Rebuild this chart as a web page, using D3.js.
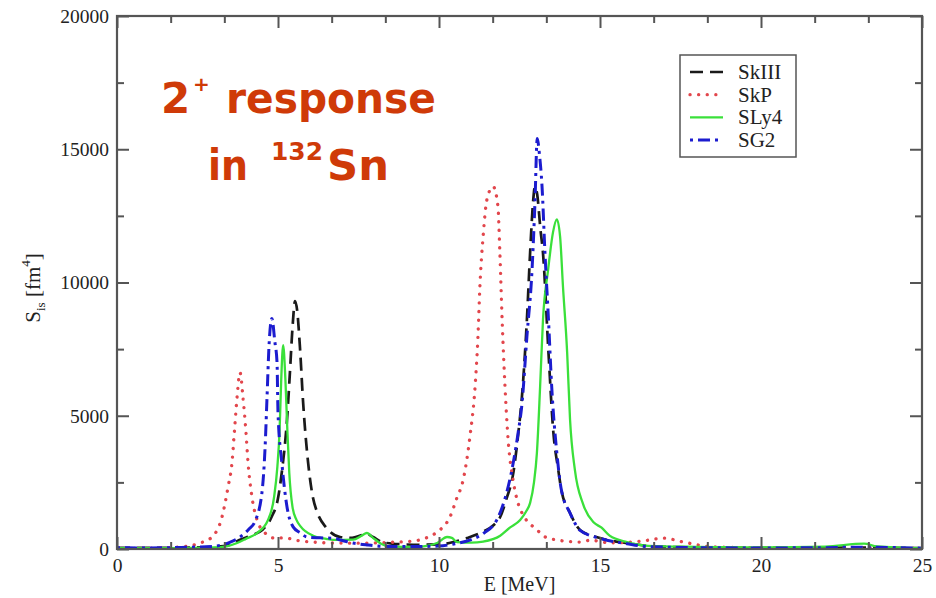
<!DOCTYPE html>
<html><head><meta charset="utf-8">
<script src="https://cdn.jsdelivr.net/npm/d3@7"></script>
<style>body{margin:0;background:#fff}svg{display:block}</style>
</head><body>
<svg id="c" width="936" height="598"></svg>
<script>
// ---------- data (E [MeV], S_IS [fm^4]) ----------
const seriesNames = ["SkIII", "SkP", "SLy4", "SG2"];

const skIII = [[0,40],[1,40],[2,50],[3,80],[3.5,150],[3.8,340],[4.2,520],[4.5,700],[4.8,1200],[5.0,1900],[5.12,2900],[5.28,4850],[5.37,6620],[5.45,8300],[5.53,9300],[5.6,8900],[5.68,7600],[5.78,5500],[5.93,3300],[6.09,1900],[6.21,1400],[6.5,800],[6.93,450],[7.3,420],[7.6,520],[7.76,565],[7.95,450],[8.26,250],[8.8,180],[9.4,160],[10,170],[10.5,280],[10.87,410],[11.37,650],[11.7,900],[11.9,1200],[12.1,1900],[12.3,2800],[12.45,4200],[12.6,6090],[12.73,8610],[12.83,11130],[12.92,13000],[12.98,13600],[13.05,13300],[13.15,12000],[13.23,11100],[13.4,7370],[13.55,4400],[13.7,3000],[13.8,2220],[14.07,1350],[14.38,715],[15,410],[15.84,225],[16.55,110],[17.5,70],[19,50],[21,40],[23,50],[25,30]];

const skP = [[0,20],[1,30],[2,80],[2.58,225],[2.95,450],[3.26,1200],[3.45,2330],[3.57,3230],[3.65,4470],[3.73,5720],[3.82,6620],[3.91,5720],[4.0,4470],[4.07,3230],[4.19,1960],[4.35,1090],[4.6,600],[4.9,410],[5.2,420],[5.6,320],[6.2,250],[6.7,225],[7.5,220],[8.5,250],[9.0,280],[9.4,340],[9.8,525],[10.03,715],[10.34,1200],[10.55,1900],[10.75,2590],[10.96,4210],[11.12,6090],[11.21,7970],[11.27,9850],[11.37,11730],[11.49,13120],[11.68,13600],[11.83,12860],[11.89,11130],[11.96,8610],[12.05,6090],[12.14,4210],[12.3,2590],[12.46,1700],[12.6,1300],[12.77,1000],[12.98,790],[13.3,450],[13.66,340],[14.38,260],[14.7,330],[15.3,230],[16.0,260],[16.55,340],[16.96,410],[17.6,260],[18.5,80],[20,50],[22,50],[25,30]];

const sLy4 = [[0,30],[1,30],[2,40],[3,60],[3.4,100],[3.73,225],[4.0,380],[4.35,600],[4.69,1090],[4.88,1960],[4.98,3080],[5.05,4470],[5.1,6350],[5.16,7650],[5.23,6350],[5.29,4470],[5.35,2860],[5.45,1580],[5.57,1100],[5.7,850],[6.09,500],[6.5,380],[6.71,340],[7.33,350],[7.6,500],[7.76,600],[7.95,420],[8.2,200],[8.48,90],[9.3,80],[9.94,225],[10.25,450],[10.4,420],[10.56,260],[11,240],[11.37,280],[11.9,500],[12.2,800],[12.52,1090],[12.7,1400],[12.83,1730],[12.95,2500],[13.04,3600],[13.14,6090],[13.23,8610],[13.39,10490],[13.54,11880],[13.66,12370],[13.76,11730],[13.85,9850],[13.98,7370],[14.07,4850],[14.22,2970],[14.47,1700],[14.8,1000],[15.05,800],[15.3,500],[15.84,260],[16.5,120],[18,80],[20,60],[22,90],[23.2,200],[23.6,100],[25,30]];

const sG2 = [[0,50],[1,40],[2,60],[2.98,100],[3.5,250],[3.82,450],[4.1,750],[4.29,1050],[4.5,2100],[4.6,3840],[4.66,5720],[4.72,7600],[4.81,8650],[4.9,7800],[4.97,7000],[5.0,5110],[5.12,3230],[5.28,1580],[5.47,830],[5.7,600],[5.9,450],[6.3,420],[6.71,400],[7.0,320],[7.33,225],[7.8,150],[8.26,100],[9,90],[10,110],[10.5,200],[11,350],[11.4,600],[11.8,1100],[12.0,1700],[12.3,3200],[12.45,4300],[12.58,5490],[12.73,7970],[12.89,10490],[12.98,13000],[13.05,15400],[13.12,14800],[13.2,13600],[13.29,11130],[13.4,8610],[13.5,6090],[13.66,3600],[13.8,2220],[14.07,1350],[14.38,700],[15,400],[15.84,200],[16.5,90],[18,50],[20,40],[22,50],[23,70],[25,30]];

const xTicks = [0, 5, 10, 15, 20, 25];
const xMinor = [1.6667, 3.3333, 6.6667, 8.3333, 11.6667, 13.3333, 16.6667, 18.3333, 21.6667, 23.3333];
const yTicks = [0, 5000, 10000, 15000, 20000];
const yMinor = [2500, 7500, 12500, 17500];

// ---------- layout ----------
const svg = d3.select("#c");
const L = 117, R = 922, T = 16, B = 549;
const x = d3.scaleLinear().domain([0, 25]).range([L, R]);
const y = d3.scaleLinear().domain([0, 20000]).range([B, T]);

const styles = {
  SkIII: {data: skIII, color: "#1a1a1a", width: 2.7, dash: "13,7", cap: "butt"},
  SkP:   {data: skP,   color: "#e2464c", width: 3.3, dash: "0.1,8.5", cap: "round"},
  SLy4:  {data: sLy4,  color: "#3ae03a", width: 2.3, dash: null, cap: "butt"},
  SG2:   {data: sG2,   color: "#1c1ccf", width: 3.0, dash: "3,5,12,5", cap: "butt"}
};

svg.append("clipPath").attr("id", "clip").append("rect")
  .attr("x", L).attr("y", T).attr("width", R - L).attr("height", B - T);

const line = d3.line().x(d => x(d[0])).y(d => y(d[1])).curve(d3.curveMonotoneX);
const gLines = svg.append("g").attr("clip-path", "url(#clip)");
seriesNames.forEach(n => {
  const s = styles[n];
  gLines.append("path").datum(s.data)
    .attr("d", line).attr("fill", "none")
    .attr("stroke", s.color).attr("stroke-width", s.width)
    .attr("stroke-dasharray", s.dash).attr("stroke-linecap", s.cap)
    .attr("stroke-linejoin", "round");
});

// ---------- axes ----------
const axisColor = "#555";
const tickFont = "'Liberation Serif','Times New Roman',serif";
function styleAxis(g) {
  g.select(".domain").remove();
  g.selectAll("line").attr("stroke", axisColor).attr("stroke-width", 2);
  g.selectAll("text").attr("font-family", tickFont).attr("font-size", 19.5).attr("fill", "#222");
}
svg.append("g").attr("transform", `translate(0,${B})`)
  .call(d3.axisBottom(x).tickValues(xTicks).tickSize(-12).tickPadding(9).tickFormat(d3.format("d"))).call(styleAxis);
svg.append("g").attr("transform", `translate(0,${B})`)
  .call(d3.axisBottom(x).tickValues(xMinor).tickSize(-7).tickFormat("")).call(styleAxis);
svg.append("g").attr("transform", `translate(0,${T})`)
  .call(d3.axisTop(x).tickValues(xTicks).tickSize(-12).tickFormat("")).call(styleAxis);
svg.append("g").attr("transform", `translate(0,${T})`)
  .call(d3.axisTop(x).tickValues(xMinor).tickSize(-7).tickFormat("")).call(styleAxis);
svg.append("g").attr("transform", `translate(${L},0)`)
  .call(d3.axisLeft(y).tickValues(yTicks).tickSize(-12).tickPadding(8).tickFormat(d3.format("d"))).call(styleAxis);
svg.append("g").attr("transform", `translate(${L},0)`)
  .call(d3.axisLeft(y).tickValues(yMinor).tickSize(-7).tickFormat("")).call(styleAxis);
svg.append("g").attr("transform", `translate(${R},0)`)
  .call(d3.axisRight(y).tickValues(yTicks).tickSize(-12).tickFormat("")).call(styleAxis);
svg.append("g").attr("transform", `translate(${R},0)`)
  .call(d3.axisRight(y).tickValues(yMinor).tickSize(-7).tickFormat("")).call(styleAxis);

svg.append("rect").attr("x", L).attr("y", T).attr("width", R - L).attr("height", B - T)
  .attr("fill", "none").attr("stroke", axisColor).attr("stroke-width", 2.2);

// axis titles
svg.append("text").attr("x", (L + R) / 2).attr("y", 591).attr("text-anchor", "middle")
  .attr("font-family", tickFont).attr("font-size", 20).attr("fill", "#222").text("E [MeV]");

const yl = svg.append("text").attr("transform", "translate(40,288) rotate(-90)")
  .attr("text-anchor", "middle").attr("font-family", tickFont).attr("font-size", 21).attr("fill", "#222");
yl.append("tspan").text("S");
yl.append("tspan").attr("font-size", 13).attr("dy", 5).text("is");
yl.append("tspan").attr("dy", -5).text(" [fm");
yl.append("tspan").attr("font-size", 13).attr("dy", -10).text("4");
yl.append("tspan").attr("dy", 10).text("]");

// ---------- legend ----------
const lg = svg.append("g");
lg.append("rect").attr("x", 680).attr("y", 55).attr("width", 116).attr("height", 102)
  .attr("fill", "#fff").attr("stroke", "#555").attr("stroke-width", 1.5);
seriesNames.forEach((n, i) => {
  const s = styles[n];
  const yy = 72 + i * 22.7;
  lg.append("line").attr("x1", 690).attr("x2", 723).attr("y1", yy).attr("y2", yy)
    .attr("stroke", s.color).attr("stroke-width", s.width)
    .attr("stroke-dasharray", s.dash).attr("stroke-linecap", s.cap);
  lg.append("text").attr("x", 738).attr("y", yy + 7)
    .attr("font-family", tickFont).attr("font-size", 21).attr("fill", "#222").text(n);
});

// ---------- annotation ----------
const red = "#cf3a08";
const annFont = "'Comic Sans MS','DejaVu Sans',sans-serif";
const a1 = svg.append("text").attr("font-family", annFont).attr("font-weight", "bold").attr("fill", red);
a1.append("tspan").attr("x", 161).attr("y", 113).attr("font-size", 42).text("2");
a1.append("tspan").attr("x", 193).attr("y", 91).attr("font-size", 20).text("+");
a1.append("tspan").attr("x", 226).attr("y", 113).attr("font-size", 42)
  .attr("textLength", 210).attr("lengthAdjust", "spacingAndGlyphs").text("response");
const a2 = svg.append("text").attr("font-family", annFont).attr("font-weight", "bold").attr("fill", red);
a2.append("tspan").attr("x", 208).attr("y", 180).attr("font-size", 42)
  .attr("textLength", 40).attr("lengthAdjust", "spacingAndGlyphs").text("in");
a2.append("tspan").attr("x", 271).attr("y", 160).attr("font-size", 25)
  .attr("textLength", 52).attr("lengthAdjust", "spacingAndGlyphs").text("132");
a2.append("tspan").attr("x", 327).attr("y", 180).attr("font-size", 42)
  .attr("textLength", 62).attr("lengthAdjust", "spacingAndGlyphs").text("Sn");
</script>
</body></html>
